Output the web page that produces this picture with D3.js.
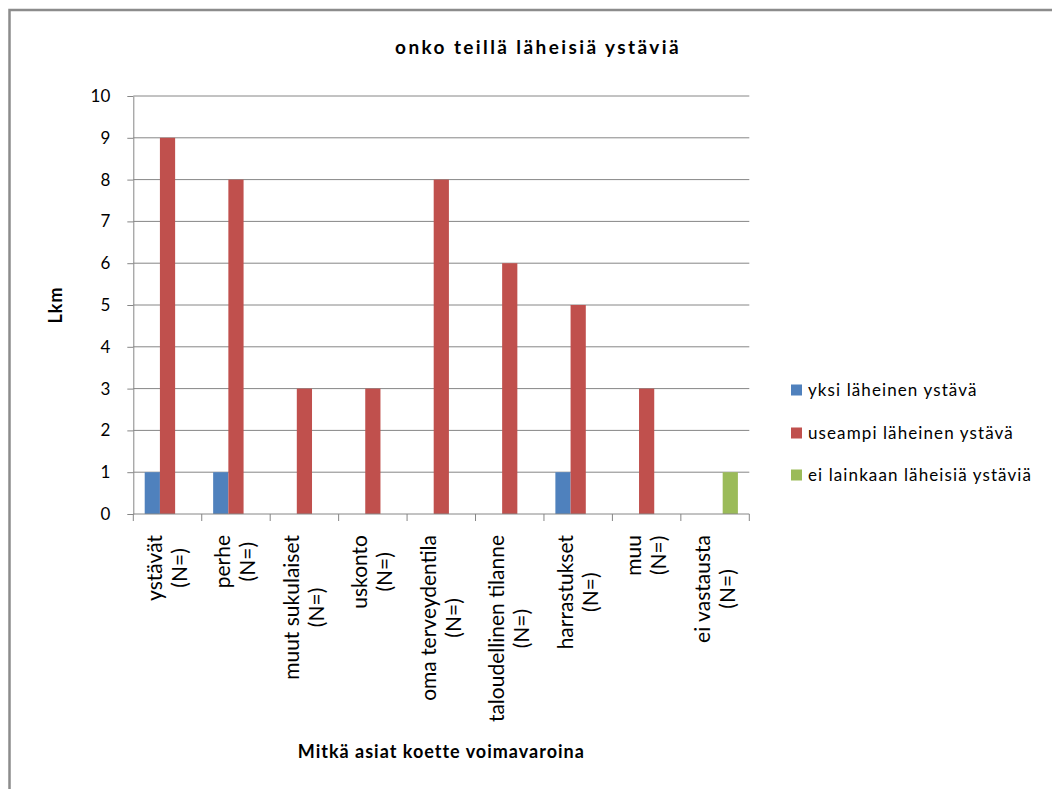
<!DOCTYPE html>
<html>
<head>
<meta charset="utf-8">
<script src="https://cdn.jsdelivr.net/npm/d3@7"></script>
<style>
  body { margin: 0; background: #fff; }
  svg { display: block; }
  text { font-family: Lato, "Open Sans", sans-serif; fill: #000; }
</style>
</head>
<body>
<div id="Chart"></div>
<script>
// data
const categories = ["ystävät", "perhe", "muut sukulaiset", "uskonto", "oma terveydentila",
                    "taloudellinen tilanne", "harrastukset", "muu", "ei vastausta"];
const seriesNames = ["yksi läheinen ystävä", "useampi läheinen ystävä", "ei lainkaan läheisiä ystäviä"];
const yksi = [1, 1, 0, 0, 0, 0, 1, 0, 0];
const useampi = [9, 8, 3, 3, 8, 6, 5, 3, 0];
const eiLainkaan = [0, 0, 0, 0, 0, 0, 0, 0, 1];
const yTicks = [0, 1, 2, 3, 4, 5, 6, 7, 8, 9, 10];

const WIDTH = 1052, HEIGHT = 789;
const colors = ["#4F81BD", "#C0504D", "#9BBB59"];
const axisColor = "#868686";
const margin = {left: 133.3, right: 1052 - 749.3, top: 96, bottom: 789 - 514};

const values = [yksi, useampi, eiLainkaan];

const svg = d3.select("#Chart").append("svg")
    .attr("width", WIDTH).attr("height", HEIGHT);

// outer frame (right and bottom edges fall outside the picture)
svg.append("rect")
    .attr("x", 9.5).attr("y", 10).attr("width", 1100).attr("height", 900)
    .attr("fill", "none").attr("stroke", "#8c8c8c").attr("stroke-width", 2.5);

const x0 = d3.scaleBand().domain(categories)
    .range([margin.left, WIDTH - margin.right]);
const gap = x0.bandwidth() * 1.5 / 4.5;
const x1 = d3.scaleBand().domain(d3.range(seriesNames.length))
    .range([gap / 2, x0.bandwidth() - gap / 2]);
const y = d3.scaleLinear().domain([0, 10]).range([HEIGHT - margin.bottom, margin.top]);

// gridlines
svg.append("g").selectAll("line")
    .data(yTicks.slice(1))
    .join("line")
    .attr("x1", margin.left).attr("x2", WIDTH - margin.right)
    .attr("y1", d => y(d)).attr("y2", d => y(d))
    .attr("stroke", axisColor).attr("stroke-width", 1);

// y axis
const yAxis = svg.append("g")
    .attr("transform", `translate(${margin.left},0)`)
    .call(d3.axisLeft(y).tickValues(yTicks).tickSize(6).tickPadding(17).tickSizeOuter(0));
yAxis.select(".domain").attr("stroke", axisColor);
yAxis.selectAll(".tick line").attr("stroke", axisColor);
yAxis.selectAll(".tick text").style("font-size", "17px").attr("fill", "#000");

// bars
const groups = svg.append("g").selectAll("g")
    .data(categories)
    .join("g")
    .attr("transform", d => `translate(${x0(d)},0)`);

groups.selectAll("rect")
    .data((d, i) => values.map((s, k) => ({k, v: s[i]})))
    .join("rect")
    .attr("x", d => x1(d.k))
    .attr("width", x1.bandwidth())
    .attr("y", d => y(d.v))
    .attr("height", d => y(0) - y(d.v))
    .attr("fill", d => colors[d.k]);

// x axis
const xAxisY = y(0);
svg.append("line")
    .attr("x1", margin.left).attr("x2", WIDTH - margin.right)
    .attr("y1", xAxisY).attr("y2", xAxisY)
    .attr("stroke", axisColor);
svg.append("g").selectAll("line")
    .data(d3.range(categories.length + 1))
    .join("line")
    .attr("x1", i => margin.left + i * x0.step())
    .attr("x2", i => margin.left + i * x0.step())
    .attr("y1", xAxisY).attr("y2", xAxisY + 7)
    .attr("stroke", axisColor);

// rotated category labels, two centred lines each
const lineGap = 25;
const labelTop = 535;
const labels = svg.append("g").selectAll("text")
    .data(categories)
    .join("text")
    .style("font-size", "21px")
    .attr("text-anchor", "middle");
labels.each(function(d) {
    const t = d3.select(this);
    const lines = [d, "(N=)"];
    lines.forEach(ln => t.append("tspan").text(ln));
    let maxLen = 0;
    t.selectAll("tspan").each(function() { maxLen = Math.max(maxLen, this.getComputedTextLength()); });
    const cx = x0(d) + x0.bandwidth() / 2;
    const cy = labelTop + maxLen / 2;
    t.attr("transform", `translate(${cx},${cy}) rotate(-90)`);
    t.selectAll("tspan")
        .attr("x", 0)
        .attr("y", (ln, i) => (i - (lines.length - 1) / 2) * lineGap + 7);
});

// titles
svg.append("text")
    .attr("x", 538).attr("y", 54)
    .attr("text-anchor", "middle")
    .style("font-size", "19px").style("font-weight", "bold")
    .style("letter-spacing", "2.4px")
    .text("onko teillä läheisiä ystäviä");

svg.append("text")
    .attr("x", (margin.left + WIDTH - margin.right) / 2).attr("y", 758)
    .attr("text-anchor", "middle")
    .style("font-size", "18px").style("font-weight", "bold")
    .style("letter-spacing", "1px")
    .text("Mitkä asiat koette voimavaroina");

svg.append("text")
    .attr("transform", `translate(62,${(y(0) + y(10)) / 2}) rotate(-90)`)
    .attr("text-anchor", "middle")
    .style("font-size", "18px").style("font-weight", "bold")
    .style("letter-spacing", "1px")
    .text("Lkm");

// legend
const legendY = [390, 433, 475];
const legend = svg.append("g").selectAll("g")
    .data(seriesNames)
    .join("g")
    .attr("transform", (d, i) => `translate(791,${legendY[i]})`);
legend.append("rect")
    .attr("x", 0).attr("y", -5.5).attr("width", 11).attr("height", 11)
    .attr("fill", (d, i) => colors[i]);
legend.append("text")
    .attr("x", 17).attr("y", 6)
    .style("font-size", "17px")
    .style("letter-spacing", "1.1px")
    .text(d => d);
</script>
</body>
</html>
